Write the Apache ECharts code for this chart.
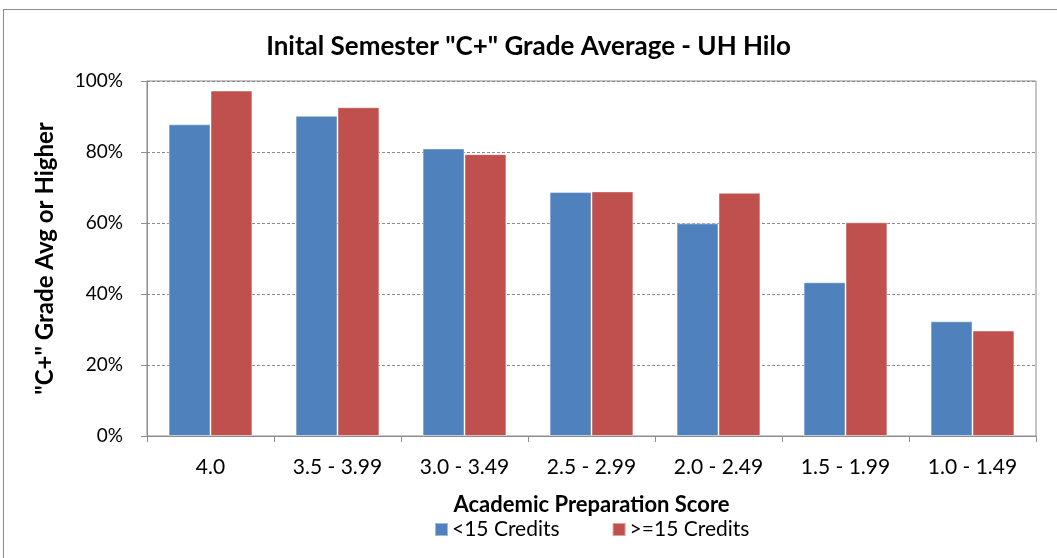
<!DOCTYPE html>
<html>
<head>
<meta charset="utf-8">
<script src="https://cdn.jsdelivr.net/npm/echarts@6/dist/echarts.min.js"></script>
<style>
html, body { margin: 0; padding: 0; background: #fff; overflow: hidden; }
.chartContainer { width: 1057px; height: 558px; position: relative; overflow: hidden; }
.frame { position: absolute; left: 3px; top: 9px; width: 1080px; height: 580px; border: 1px solid #8c8c8c; box-sizing: border-box; }
.chart { position: absolute; left: 0; top: 0; width: 1057px; height: 558px; }
</style>
</head>
<body>
<div class="chartContainer">
  <div class="frame"></div>
  <div class="chart" id="chart"></div>
</div>
<script>
const categories = ['4.0', '3.5 - 3.99', '3.0 - 3.49', '2.5 - 2.99', '2.0 - 2.49', '1.5 - 1.99', '1.0 - 1.49'];
const under15 = [87.8, 90.2, 81.0, 68.7, 59.9, 43.3, 32.3];
const over15 = [97.3, 92.6, 79.4, 68.9, 68.5, 60.2, 29.7];
const seriesNames = ['<15 Credits', '>=15 Credits'];

const font = 'Lato, "Open Sans", sans-serif';
const chart = echarts.init(document.getElementById('chart'));

chart.setOption({
  animation: false,
  title: {
    text: 'Inital Semester "C+" Grade Average - UH Hilo',
    left: 'center',
    top: 29,
    textStyle: { fontFamily: font, fontSize: 26, fontWeight: 'bold', color: '#000' }
  },
  legend: {
    bottom: 13,
    left: 429,
    itemWidth: 13,
    itemHeight: 13,
    itemGap: 52,
    icon: 'rect',
    textStyle: { fontFamily: font, fontSize: 21, color: '#000', padding: [0, 0, 0, -1] },
    data: seriesNames
  },
  grid: {
    left: 147,
    right: 21,
    top: 81,
    bottom: 122,
    show: true,
    borderColor: '#8c8c8c',
    borderWidth: 1
  },
  xAxis: {
    type: 'category',
    data: categories,
    name: 'Academic Preparation Score',
    nameLocation: 'middle',
    nameGap: 58,
    nameTextStyle: { fontFamily: font, fontSize: 22, fontWeight: 'bold', color: '#000' },
    axisLine: { lineStyle: { color: '#8c8c8c', width: 1 } },
    axisTick: { show: true, length: 6, lineStyle: { color: '#8c8c8c' } },
    axisLabel: { fontFamily: font, fontSize: 21, color: '#000', margin: 21 }
  },
  yAxis: {
    type: 'value',
    min: 0,
    max: 100,
    interval: 20,
    name: '"C+" Grade Avg or Higher',
    nameLocation: 'middle',
    nameGap: 90,
    nameTextStyle: { fontFamily: font, fontSize: 24, fontWeight: 'bold', color: '#000' },
    axisLine: { show: true, lineStyle: { color: '#8c8c8c', width: 1 } },
    axisTick: { show: true, length: 6, lineStyle: { color: '#8c8c8c' } },
    axisLabel: { fontFamily: font, fontSize: 19, color: '#000', margin: 24, formatter: '{value}%' },
    splitLine: { show: true, lineStyle: { color: '#8c8c8c', type: [3, 2], width: 1 } }
  },
  series: [
    {
      name: seriesNames[0],
      type: 'bar',
      data: under15,
      barGap: '0%',
      barCategoryGap: '34%',
      itemStyle: { color: '#4F81BD', borderColor: 'rgba(255,255,255,0.45)', borderWidth: 1 }
    },
    {
      name: seriesNames[1],
      type: 'bar',
      data: over15,
      itemStyle: { color: '#C0504D', borderColor: 'rgba(255,255,255,0.45)', borderWidth: 1 }
    }
  ]
});
</script>
</body>
</html>
